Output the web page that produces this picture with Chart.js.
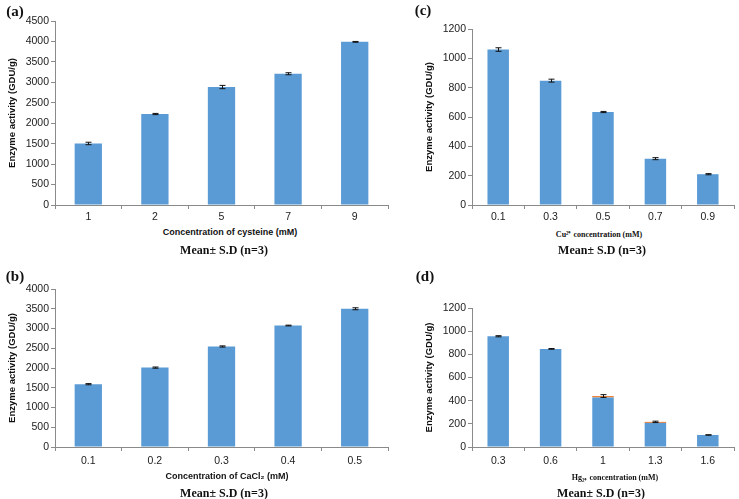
<!DOCTYPE html>
<html lang="en">
<head>
<meta charset="UTF-8" />
<title>Enzyme activity panels</title>
<script src="https://cdn.jsdelivr.net/npm/chart.js@4"></script>
<style>
  body { margin: 0; background: #fff; width: 739px; height: 499px; position: relative; overflow: hidden; }
  canvas { position: absolute; }
  .t { position: absolute; transform: translate(-50%, -50%); white-space: nowrap; color: #111; }
  .panel { font: bold 15px "Liberation Serif", serif; }
  .mean { font: bold 12px "Liberation Serif", serif; }
  .xa { font: bold 9px "Liberation Sans", Arial, sans-serif; }
  .xs { font: bold 8px "Liberation Serif", serif; }
</style>
</head>
<body>
<canvas id="chartA" width="395" height="225" style="left:0;top:0"></canvas>
<canvas id="chartC" width="322" height="225" style="left:417px;top:0"></canvas>
<canvas id="chartB" width="395" height="225" style="left:0;top:250px"></canvas>
<canvas id="chartD" width="322" height="225" style="left:417px;top:250px"></canvas>

<div class="t panel" style="left:15px;top:11px">(a)</div>
<div class="t panel" style="left:423px;top:10px">(c)</div>
<div class="t panel" style="left:15px;top:276px">(b)</div>
<div class="t panel" style="left:425px;top:276px">(d)</div>

<div class="t xa" style="left:230px;top:232px">Concentration of cysteine (mM)</div>
<div class="t xs" style="left:599px;top:233px">Cu²⁺ concentration (mM)</div>
<div class="t xa" style="left:227px;top:476px">Concentration of CaCl₂ (mM)</div>
<div class="t xs" style="left:615px;top:476px">Hg₂₊ concentration (mM)</div>

<div class="t mean" style="left:224px;top:250px">Mean± S.D (n=3)</div>
<div class="t mean" style="left:602px;top:250px">Mean± S.D (n=3)</div>
<div class="t mean" style="left:224px;top:493px">Mean± S.D (n=3)</div>
<div class="t mean" style="left:601px;top:493px">Mean± S.D (n=3)</div>

<script>
// --- data ---
const cysteineLabels = ["1", "2", "5", "7", "9"];
const cysteineActivity = [1505, 2225, 2885, 3210, 3990];
const cysteineSD = [30, 15, 40, 25, 10];

const cacl2Labels = ["0.1", "0.2", "0.3", "0.4", "0.5"];
const cacl2Activity = [1590, 2010, 2545, 3075, 3500];
const cacl2SD = [15, 15, 15, 10, 25];

const cuLabels = ["0.1", "0.3", "0.5", "0.7", "0.9"];
const cuActivity = [1060, 848, 634, 316, 210];
const cuSD = [12, 10, 4, 7, 4];

const hgLabels = ["0.3", "0.6", "1", "1.3", "1.6"];
const hgActivity = [956, 847, 428, 208, 104];
const hgExtra = [0, 0, 12, 9, 0]; // thin orange cap on two bars
const hgSD = [5, 3, 12, 6, 2];

const BLUE = "#5b9bd5";
const ORANGE = "#ed7d31";
const AXIS = "#8a8a8a";

// error bars drawn through the y scale
const errorBars = {
  id: "errorBars",
  afterDatasetsDraw(chart, args, opts) {
    if (!opts.sd) return;
    const { ctx } = chart;
    const y = chart.scales.y;
    const meta = chart.getDatasetMeta(0);
    ctx.save();
    ctx.strokeStyle = "#111";
    ctx.lineWidth = 1;
    meta.data.forEach((bar, i) => {
      const total = chart.data.datasets.reduce((s, d) => s + (d.data[i] || 0), 0);
      const top = y.getPixelForValue(total + opts.sd[i]);
      const bot = y.getPixelForValue(total - opts.sd[i]);
      const x = Math.round(bar.x) + 0.5;
      ctx.beginPath();
      ctx.moveTo(x, top); ctx.lineTo(x, bot);
      ctx.moveTo(x - 3, top); ctx.lineTo(x + 3, top);
      ctx.moveTo(x - 3, bot); ctx.lineTo(x + 3, bot);
      ctx.stroke();
    });
    ctx.restore();
  }
};

function makeChart(id, labels, datasets, sd, yMax, yStep, padTop, padRight, xHeight, xPad) {
  return new Chart(document.getElementById(id), {
    type: "bar",
    data: { labels, datasets },
    plugins: [errorBars],
    options: {
      responsive: false,
      animation: false,
      layout: { padding: { top: padTop, right: padRight, left: 0, bottom: 0 } },
      plugins: {
        legend: { display: false },
        tooltip: { enabled: false },
        errorBars: { sd }
      },
      datasets: { bar: { categoryPercentage: 1, barPercentage: 0.41 } },
      scales: {
        x: {
          stacked: true,
          grid: { display: true, drawOnChartArea: false, offset: true, tickLength: 4, color: AXIS },
          border: { color: AXIS },
          ticks: { color: "#222", padding: xPad, font: { family: "Liberation Sans", size: 10.5 } },
          afterFit: (s) => { s.height = xHeight; }
        },
        y: {
          stacked: true,
          min: 0,
          max: yMax,
          grid: { display: true, drawOnChartArea: false, tickLength: 4, color: AXIS },
          border: { color: AXIS },
          ticks: {
            stepSize: yStep,
            color: "#222",
            padding: 2,
            font: { family: "Liberation Sans", size: 10.5 },
            callback: (v) => String(v)
          },
          title: {
            display: true,
            text: "Enzyme activity (GDU/g)",
            color: "#111",
            padding: { top: 7, bottom: 0 },
            font: { family: "Liberation Sans", size: 9.5, weight: "bold" }
          },
          afterFit: (s) => { s.width = 55; }
        }
      }
    }
  });
}

makeChart("chartA", cysteineLabels,
  [{ data: cysteineActivity, backgroundColor: BLUE }],
  cysteineSD, 4500, 500, 21, 7, 20, 2);

makeChart("chartC", cuLabels,
  [{ data: cuActivity, backgroundColor: BLUE }],
  cuSD, 1200, 200, 29, 5, 20, 2);

makeChart("chartB", cacl2Labels,
  [{ data: cacl2Activity, backgroundColor: BLUE }],
  cacl2SD, 4000, 500, 39, 7, 28, 4);

makeChart("chartD", hgLabels,
  [{ data: hgActivity, backgroundColor: BLUE }, { data: hgExtra, backgroundColor: ORANGE }],
  hgSD, 1200, 200, 58, 5, 28, 4);
</script>
</body>
</html>
